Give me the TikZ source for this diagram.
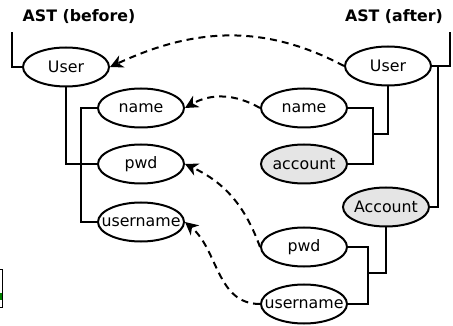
\documentclass[tikz,border=0pt]{standalone}
\usepackage{fontspec}
\setmainfont{DejaVu Sans}
\usetikzlibrary{shapes.geometric,arrows.meta}
\newcommand\zb[1]{\makebox[0pt]{#1}}
\begin{document}
\begin{tikzpicture}[x=1pt,y=1pt,
 ell/.style={ellipse,draw,fill=white,line width=2pt,minimum width=86pt,minimum height=39pt,inner sep=0pt,font=\fontsize{15.8}{18}\selectfont},
 gry/.style={fill=black!10},
 tl/.style={line width=2pt},
 dl/.style={line width=2pt,dash pattern=on 7pt off 5pt,-{Stealth[length=13pt,width=13pt,inset=4pt]}},
 ttl/.style={font=\bfseries\fontsize{15.8}{18}\selectfont}]
\useasboundingbox (0,0) rectangle (453,-326);
% titles
\node[ttl] (tb) at (79,-17) {AST (before)};
\node[ttl] (ta) at (394,-17) {AST (after)};
% left tree
\node[ell] (lU) at (66,-67) {\zb{User}};
\node[ell] (lname) at (141,-108) {\zb{name}};
\node[ell] (lpwd) at (141,-164) {\zb{pwd}};
\node[ell] (luname) at (141,-222) {\zb{username}};
% right tree
\node[ell] (rU) at (388,-66) {\zb{User}};
\node[ell] (rname) at (304,-108) {\zb{name}};
\node[ell,gry] (racc) at (304,-164) {\zb{account}};
\node[ell,gry] (rAcc) at (386,-207) {\zb{Account}};
\node[ell] (rpwd) at (304,-247) {\zb{pwd}};
\node[ell] (runame) at (304,-304) {\zb{username}};
% left connectors
\coordinate (lbr) at (12,-32);
\draw[tl] (lU.west) -| (lbr);
\draw[tl] (lU.south) |- (lpwd.west);
\coordinate (lj) at (81,-164);
\draw[tl] (lname.west) -| (lj) |- (luname.west);
% right connectors
\coordinate (rbr) at (450,-32);
\draw[tl] (rU.east) -| (rbr);
\coordinate (rAj) at (438,-66);
\draw[tl] (rAj) |- (rAcc.east);
\coordinate (rj1) at (373,-134);
\draw[tl] (rU.south) |- (rj1);
\draw[tl] (rname.east) -| (rj1) |- (racc.east);
\coordinate (rj2) at (368,-273);
\draw[tl] (rAcc.south) |- (rj2);
\draw[tl] (rpwd.east) -| (rj2) |- (runame.east);
% dashed mappings
\draw[dl] (rU.west) to[out=152,in=25] (lU.east);
\draw[dl] (rname.west) to[out=150,in=30] (lname.east);
\draw[dl] (rpwd.west) to[out=110,in=-25] (lpwd.east);
\draw[dl] (runame.west) to[out=180,in=-40] (luname.east);
% cut-off fragment at lower left
\draw[line width=1pt] (-5,-269) rectangle (2.5,-307);
\fill[green!50!black] (0,-293) rectangle (2,-300);
\end{tikzpicture}
\end{document}
